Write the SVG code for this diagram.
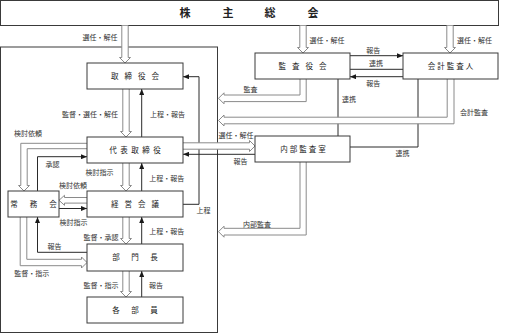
<svg xmlns="http://www.w3.org/2000/svg" width="505" height="334" viewBox="0 0 505 334">
<style>
.box{fill:#fff;stroke:#3a3a3a;stroke-width:1}
.frame{fill:none;stroke:#3a3a3a;stroke-width:1}
.ln{fill:none;stroke:#2a2a2a;stroke-width:1}
.ho{fill:#fff;stroke:#8a8a8a;stroke-width:1}
.bt{font-family:"Noto Sans CJK JP","Noto Sans CJK SC",sans-serif;font-size:7.5px;fill:#222;text-anchor:middle}
.lb{font-family:"Noto Sans CJK JP","Noto Sans CJK SC",sans-serif;font-size:7px;fill:#333;text-anchor:middle}
.tt{font-family:"Noto Sans CJK JP","Noto Sans CJK SC",sans-serif;font-size:11px;font-weight:bold;fill:#222;text-anchor:middle}
</style>
<defs>
<marker id="ah" viewBox="0 0 6 5" refX="6" refY="2.5" markerWidth="6" markerHeight="5" markerUnits="userSpaceOnUse" orient="auto">
<path d="M0,0 L6,2.5 L0,5 Z" fill="#1a1a1a"/>
</marker>
</defs>

<g id="shareholders">
<rect class="box" x="0.5" y="0.5" width="498" height="25"/>
<text class="tt" x="185 228 270 313" y="17">株主総会</text>
</g>

<g id="company-frame">
<rect class="frame" x="0.5" y="47" width="217" height="285.5"/>
</g>

<g id="connectors">
<!-- solid lines -->
<path class="ln" d="M183,204.3 H199 V76.7 H183" marker-end="url(#ah)"/>
<path class="ln" d="M255,154.3 H183" marker-end="url(#ah)"/>
<path class="ln" d="M37.5,191 V156.7 H87" marker-end="url(#ah)"/>
<path class="ln" d="M59,208.5 H87" marker-end="url(#ah)"/>
<path class="ln" d="M87,252.3 H37.5 V217" marker-end="url(#ah)"/>
<path class="ln" d="M350,55.7 H403" marker-end="url(#ah)"/>
<path class="ln" d="M350,69.3 H403"/>
<path class="ln" d="M403,76.7 H350" marker-end="url(#ah)"/>
<path class="ln" d="M338,79 V136"/>
<path class="ln" d="M418,79 V147 H350"/>
<path class="ln" d="M141.7,137 V89" marker-end="url(#ah)"/>
<path class="ln" d="M141.7,191 V163" marker-end="url(#ah)"/>
<path class="ln" d="M141.7,244 V217" marker-end="url(#ah)"/>
<path class="ln" d="M141.7,297 V271" marker-end="url(#ah)"/>
<!-- hollow arrows -->
<path class="ho" d="M121.8,25.5 V57.5 H119.5 L125,63 L130.5,57.5 H128.2 V25.5"/>
<path class="ho" d="M299.8,25.5 V47.5 H297.5 L303,53 L308.5,47.5 H306.2 V25.5"/>
<path class="ho" d="M446.8,25.5 V47.5 H444.5 L450,53 L455.5,47.5 H453.2 V25.5"/>
<path class="ho" d="M122.8,89 V131.5 H120.5 L126,137 L131.5,131.5 H129.2 V89"/>
<path class="ho" d="M122.8,163 V185.5 H120.5 L126,191 L131.5,185.5 H129.2 V163"/>
<path class="ho" d="M122.8,217 V238.5 H120.5 L126,244 L131.5,238.5 H129.2 V217"/>
<path class="ho" d="M122.8,271 V291.5 H120.5 L126,297 L131.5,291.5 H129.2 V271"/>
<path class="ho" d="M300,79 V95 H224 V92.8 L218.5,98.3 L224,103.8 V101.6 H306.2 V79"/>
<path class="ho" d="M447.2,79 V117.2 H224 V115 L218.5,120.5 L224,126 V123.8 H454 V79"/>
<path class="ho" d="M300,162 V228.3 H224 V226.2 L218.5,231.7 L224,237.2 V235 H306.2 V162"/>
<path class="ho" d="M183,142.8 H249.5 V140.5 L255,146 L249.5,151.5 V149.2 H183"/>
<path class="ho" d="M87,143.3 H20.8 V185.5 H18.5 L24,191 L29.5,185.5 H27.2 V148.7 H87"/>
<path class="ho" d="M87,197.5 H64.5 V195.3 L59,200.3 L64.5,205.3 V203.1 H87"/>
<path class="ho" d="M20.2,217 V265.7 H81.5 V268 L87,262.5 L81.5,257 V259.3 H26.8 V217"/>
</g>

<g id="board">
<rect class="box" x="87" y="63" width="96" height="26"/>
<text class="bt" x="114.75 128.25 141.75 155.25" y="78.8">取締役会</text>
</g>
<g id="representative">
<rect class="box" x="87" y="137" width="96" height="26"/>
<text class="bt" x="113 124 135 146 157" y="152.8">代表取締役</text>
</g>
<g id="management-meeting">
<rect class="box" x="87" y="191" width="96" height="26"/>
<text class="bt" x="114.75 128.25 141.75 155.25" y="206.8">経営会議</text>
</g>
<g id="executive-committee">
<rect class="box" x="8" y="191" width="51" height="26"/>
<text class="bt" x="14 33.5 53" y="206.8">常務会</text>
</g>
<g id="department-heads">
<rect class="box" x="87" y="244" width="96" height="27"/>
<text class="bt" x="116 135 154" y="260.3">部門長</text>
</g>
<g id="staff">
<rect class="box" x="87" y="297" width="96" height="26"/>
<text class="bt" x="116 135 154" y="312.8">各部員</text>
</g>
<g id="auditors">
<rect class="box" x="255" y="53" width="95" height="26"/>
<text class="bt" x="282.25 295.75 309.25 322.75" y="68.8">監査役会</text>
</g>
<g id="accounting-auditor">
<rect class="box" x="403" y="53" width="95" height="26"/>
<text class="bt" x="431.5 441 450.5 460 469.5" y="68.8">会計監査人</text>
</g>
<g id="internal-audit">
<rect class="box" x="255" y="136" width="95" height="26"/>
<text class="bt" x="284 293.5 303 312.5 322" y="151.8">内部監査室</text>
</g>

<g id="labels">
<text class="lb" x="100" y="40">選任・解任</text>
<text class="lb" x="327" y="42.8">選任・解任</text>
<text class="lb" x="474.5" y="42.8">選任・解任</text>
<text class="lb" x="373.3" y="52.8">報告</text>
<text class="lb" x="376" y="66.3">連携</text>
<text class="lb" x="373.3" y="85.5">報告</text>
<text class="lb" x="250.5" y="92.3">監査</text>
<text class="lb" x="349" y="102.1">連携</text>
<text class="lb" x="474" y="114.5">会計監査</text>
<text class="lb" x="90" y="117.1">監督・選任・解任</text>
<text class="lb" x="167.5" y="117.1">上程・報告</text>
<text class="lb" x="28" y="136.2">検討依頼</text>
<text class="lb" x="236" y="137.8">選任・解任</text>
<text class="lb" x="240.5" y="163.5">報告</text>
<text class="lb" x="402.5" y="156.1">連携</text>
<text class="lb" x="52.5" y="167">承認</text>
<text class="lb" x="99.5" y="174.5">検討指示</text>
<text class="lb" x="166.7" y="181.1">上程・報告</text>
<text class="lb" x="73" y="187.8">検討依頼</text>
<text class="lb" x="203.5" y="213.3">上程</text>
<text class="lb" x="73.5" y="224.5">検討指示</text>
<text class="lb" x="257" y="226.8">内部監査</text>
<text class="lb" x="166.7" y="233.8">上程・報告</text>
<text class="lb" x="101" y="239.5">監督・承認</text>
<text class="lb" x="54.5" y="248.5">報告</text>
<text class="lb" x="31.7" y="275.5">監督・指示</text>
<text class="lb" x="101" y="287.8">監督・指示</text>
<text class="lb" x="156" y="287.8">報告</text>
</g>
</svg>
